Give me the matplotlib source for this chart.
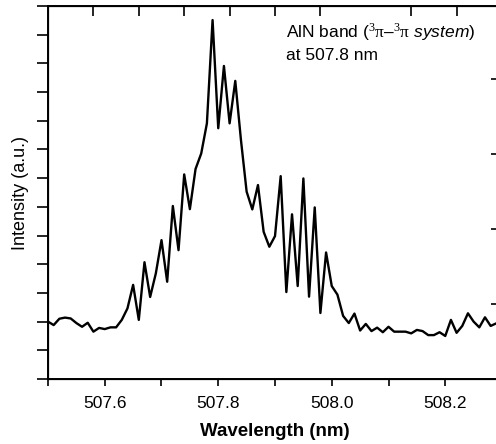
"""AlN band emission spectrum near 507.8 nm."""

import matplotlib

matplotlib.use("Agg")
import matplotlib.pyplot as plt

plt.rcParams["font.family"] = ["Liberation Sans", "DejaVu Sans"]
plt.rcParams["mathtext.fontset"] = "custom"
plt.rcParams["mathtext.rm"] = "Liberation Serif"
plt.rcParams["mathtext.it"] = "Liberation Sans:italic"
plt.rcParams["mathtext.bf"] = "Liberation Sans:bold"

# wavelength grid (nm), one sample every 0.01 nm
wavelength = [
    507.50, 507.51, 507.52, 507.53, 507.54, 507.55, 507.56, 507.57, 507.58, 507.59,
    507.60, 507.61, 507.62, 507.63, 507.64, 507.65, 507.66, 507.67, 507.68, 507.69,
    507.70, 507.71, 507.72, 507.73, 507.74, 507.75, 507.76, 507.77, 507.78, 507.79,
    507.80, 507.81, 507.82, 507.83, 507.84, 507.85, 507.86, 507.87, 507.88, 507.89,
    507.90, 507.91, 507.92, 507.93, 507.94, 507.95, 507.96, 507.97, 507.98, 507.99,
    508.00, 508.01, 508.02, 508.03, 508.04, 508.05, 508.06, 508.07, 508.08, 508.09,
    508.10, 508.11, 508.12, 508.13, 508.14, 508.15, 508.16, 508.17, 508.18, 508.19,
    508.20, 508.21, 508.22, 508.23, 508.24, 508.25, 508.26, 508.27, 508.28, 508.29,
]
intensity = [
    2.00, 1.88, 2.10, 2.14, 2.11, 1.95, 1.82, 1.96, 1.65, 1.78,
    1.74, 1.80, 1.80, 2.06, 2.46, 3.28, 2.06, 4.07, 2.86, 3.68,
    4.84, 3.39, 6.03, 4.49, 7.13, 5.92, 7.32, 7.86, 8.91, 12.51,
    8.74, 10.91, 8.91, 10.39, 8.33, 6.53, 5.91, 6.76, 5.13, 4.61,
    4.98, 7.07, 3.03, 5.74, 3.24, 6.99, 2.87, 5.98, 2.30, 4.41,
    3.24, 2.94, 2.20, 1.95, 2.28, 1.69, 1.92, 1.67, 1.79, 1.63,
    1.82, 1.65, 1.65, 1.65, 1.59, 1.71, 1.67, 1.53, 1.53, 1.63,
    1.50, 2.06, 1.61, 1.85, 2.29, 2.00, 1.80, 2.15, 1.85, 1.94,
]

x_major = [507.6, 507.8, 508.0, 508.2]
x_major_labels = ["507.6", "507.8", "508.0", "508.2"]
x_minor = [507.5, 507.7, 507.9, 508.1, 508.3]
y_ticks = list(range(14))
top_ticks = [1, 2, 3, 4, 5, 6, 8, 9]
right_ticks = [1, 2, 3, 4]

W, H = 496, 444
fig = plt.figure(figsize=(W / 100, H / 100), dpi=100)
# the original is cropped on the right, so the frame runs past the image edge
ax = fig.add_axes([48 / W, 1 - 379 / H, 454 / W, 373 / H])

ax.plot(wavelength, intensity, color="black", lw=1.7)
ax.set_xlim(507.5, 508.3)
ax.set_ylim(0, 13)

ax.set_xticks(x_major)
ax.set_xticklabels(x_major_labels)
ax.set_xticks(x_minor, minor=True)
ax.set_yticks(y_ticks)
ax.set_yticklabels([])
ax.tick_params(axis="x", which="both", direction="out", length=5, width=1.2,
               labelsize=12.5, pad=7, top=False)
ax.tick_params(axis="y", direction="out", length=8, width=1.2, right=False)
ax.set_xlabel("Wavelength (nm)", fontsize=13.5, fontweight="bold", labelpad=9)
ax.set_ylabel("Intensity (a.u.)", fontsize=13, labelpad=2)
for s in ax.spines.values():
    s.set_linewidth(1.4)

top = ax.twiny()
top.set_xlim(0, 10)
top.set_xticks(top_ticks)
top.set_xticklabels([])
top.tick_params(axis="x", direction="in", length=7, width=1.2)

right = ax.twinx()
right.set_ylim(0, 373 / 75)
right.set_yticks(right_ticks)
right.set_yticklabels([])
right.tick_params(axis="y", direction="in", length=8, width=1.2)

ax.text(0.524, 0.958,
        "AlN band ($^{3}\\mathrm{\\pi}$–$^{3}\\mathrm{\\pi}$ $\\mathit{system}$)\nat 507.8 nm",
        transform=ax.transAxes, ha="left", va="top", fontsize=12.5, linespacing=1.42)

fig.savefig("out.png", dpi=100)
